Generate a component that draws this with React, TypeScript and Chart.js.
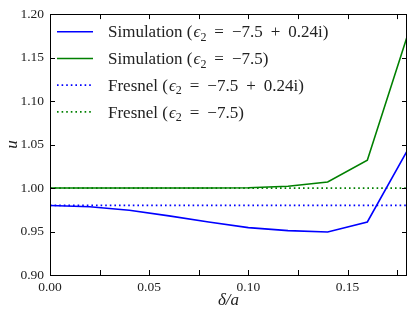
import React, { useEffect, useRef } from "react";
import { Chart, registerables } from "chart.js";

Chart.register(...registerables);

const deltaOverA = [0, 0.02, 0.04, 0.06, 0.08, 0.1, 0.12, 0.14, 0.16, 0.18];
const simLossy = [0.98, 0.9785, 0.9745, 0.968, 0.961, 0.9545, 0.951, 0.9495, 0.961, 1.0425];
const simLossless = [1.0, 1.0, 1.0, 1.0, 1.0, 1.0003, 1.002, 1.007, 1.032, 1.1737];
const fresnelX = [0, 0.18];
const fresnelLossy = [0.98, 0.98];
const fresnelLossless = [1.0, 1.0];
const seriesLabels = [
  "Simulation (ϵ₂ = −7.5 + 0.24i)",
  "Simulation (ϵ₂ = −7.5)",
  "Fresnel (ϵ₂ = −7.5 + 0.24i)",
  "Fresnel (ϵ₂ = −7.5)",
];
const xRange = [0, 0.18];
const yRange = [0.9, 1.2];
const xTickStep = 0.025;
const xLabelStep = 0.05;
const yTickStep = 0.05;
const xTitle = "δ/a";
const yTitle = "u";

const BLUE = "#0000ff";
const GREEN = "#008000";
const SERIF = "'Liberation Serif', 'DejaVu Serif', serif";

function pts(xs: number[], ys: number[]) {
  return xs.map((x, i) => ({ x, y: ys[i] }));
}

function drawRich(ctx: CanvasRenderingContext2D, text: string, x: number, y: number, size: number) {
  const parts = text.split("ϵ₂");
  let cx = x;
  ctx.textBaseline = "alphabetic";
  ctx.textAlign = "left";
  const base = y + size * 0.33;
  parts.forEach((p, i) => {
    ctx.font = `${size}px ${SERIF}`;
    if (i === 0) {
      ctx.fillText(p, cx, base);
      cx += ctx.measureText(p).width + 1;
    } else {
      // math part: wider spacing around operators
      const toks = p.split(" ");
      toks.forEach((t, k) => {
        if (k > 0) cx += size * 0.47;
        ctx.fillText(t, cx, base);
        cx += ctx.measureText(t).width;
      });
    }
    if (i < parts.length - 1) {
      ctx.font = `italic ${size}px ${SERIF}`;
      ctx.fillText("ϵ", cx, base);
      cx += ctx.measureText("ϵ").width;
      const sub = Math.round(size * 0.7);
      ctx.font = `${sub}px ${SERIF}`;
      ctx.fillText("2", cx, base + size * 0.2);
      cx += ctx.measureText("2").width;
    }
  });
}

const framePlugin = {
  id: "framePlugin",
  afterDraw(chart: any) {
    const { ctx, chartArea: a } = chart;
    const xs = chart.scales.x;
    const ys = chart.scales.y;
    ctx.save();
    ctx.strokeStyle = "#000";
    ctx.lineWidth = 1;
    ctx.strokeRect(Math.round(a.left) + 0.5, Math.round(a.top) + 0.5, Math.round(a.right - a.left) - 1, Math.round(a.bottom - a.top));
    const tl = 5;
    ctx.beginPath();
    for (let v = xRange[0] + xTickStep; v < xRange[1] - 1e-9; v += xTickStep) {
      const px = Math.round(xs.getPixelForValue(v)) + 0.5;
      ctx.moveTo(px, a.bottom);
      ctx.lineTo(px, a.bottom - tl);
      ctx.moveTo(px, a.top);
      ctx.lineTo(px, a.top + tl);
    }
    for (let v = yRange[0] + yTickStep; v < yRange[1] - 1e-9; v += yTickStep) {
      const py = Math.round(ys.getPixelForValue(v)) + 0.5;
      ctx.moveTo(a.left, py);
      ctx.lineTo(a.left + tl, py);
      ctx.moveTo(a.right, py);
      ctx.lineTo(a.right - tl, py);
    }
    ctx.stroke();

    // legend
    const size = 17;
    chart.data.datasets.forEach((ds: any, i: number) => {
      const ry = a.top + 17.7 + i * 26.7;
      ctx.save();
      ctx.strokeStyle = ds.borderColor;
      ctx.lineWidth = ds.borderWidth;
      ctx.setLineDash(ds.borderDash || []);
      ctx.beginPath();
      ctx.moveTo(a.left + 7, ry);
      ctx.lineTo(a.left + 43, ry);
      ctx.stroke();
      ctx.restore();
      ctx.fillStyle = "#222";
      drawRich(ctx, ds.label, a.left + 58, ry, size);
    });

    // axis titles
    ctx.fillStyle = "#222";
    ctx.font = `italic 17px ${SERIF}`;
    ctx.textAlign = "center";
    ctx.textBaseline = "middle";
    ctx.fillText(xTitle, (a.left + a.right) / 2, 301);
    ctx.save();
    ctx.translate(13, (a.top + a.bottom) / 2);
    ctx.rotate(-Math.PI / 2);
    ctx.fillText(yTitle, 0, 0);
    ctx.restore();
    ctx.restore();
  },
};

export default function App() {
  const ref = useRef<HTMLCanvasElement>(null);
  useEffect(() => {
    document.body.style.margin = "0";
    const chart = new Chart(ref.current!, {
      type: "line",
      data: {
        datasets: [
          { label: seriesLabels[0], data: pts(deltaOverA, simLossy), borderColor: BLUE, borderWidth: 1.6, pointRadius: 0, fill: false },
          { label: seriesLabels[1], data: pts(deltaOverA, simLossless), borderColor: GREEN, borderWidth: 1.6, pointRadius: 0, fill: false },
          { label: seriesLabels[2], data: pts(fresnelX, fresnelLossy), borderColor: BLUE, borderWidth: 1.8, borderDash: [1.6, 3], pointRadius: 0, fill: false },
          { label: seriesLabels[3], data: pts(fresnelX, fresnelLossless), borderColor: GREEN, borderWidth: 1.8, borderDash: [1.6, 3], pointRadius: 0, fill: false },
        ] as any,
      },
      options: {
        animation: false,
        responsive: false,
        maintainAspectRatio: false,
        layout: { padding: { left: 0, top: 9, right: 8, bottom: 0 } },
        plugins: { legend: { display: false }, tooltip: { enabled: false } },
        scales: {
          x: {
            type: "linear",
            min: xRange[0],
            max: xRange[1],
            grid: { display: false, drawTicks: false },
            border: { display: false },
            afterFit: (s: any) => { s.height = 37; },
            ticks: {
              stepSize: xTickStep,
              autoSkip: false,
              maxRotation: 0,
              padding: 4,
              color: "#222",
              font: { family: SERIF, size: 13.5 },
              callback: (v: any) => {
                const n = Number(v);
                const r = n / xLabelStep;
                return Math.abs(r - Math.round(r)) < 1e-6 && n <= xRange[1] - 0.01 ? n.toFixed(2) : "";
              },
            },
          },
          y: {
            type: "linear",
            min: yRange[0],
            max: yRange[1],
            grid: { display: false, drawTicks: false },
            border: { display: false },
            afterFit: (s: any) => { s.width = 50; },
            ticks: {
              stepSize: yTickStep,
              padding: 6,
              color: "#222",
              font: { family: SERIF, size: 13.5 },
              callback: (v: any) => Number(v).toFixed(2),
            },
          },
        },
      },
      plugins: [framePlugin],
    });
    return () => chart.destroy();
  }, []);
  return (
    <div style={{ position: "fixed", left: 0, top: 0, width: 415, height: 312 }}>
      <canvas ref={ref} width={415} height={312} style={{ width: 415, height: 312 }} />
    </div>
  );
}
